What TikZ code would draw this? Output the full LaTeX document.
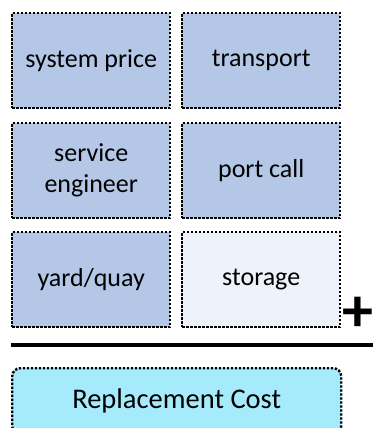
\documentclass[tikz,border=0pt]{standalone}
\usepackage{fontspec}
\setmainfont{Carlito}
\begin{document}
\begin{tikzpicture}[x=1pt,y=1pt,
  dotline/.style={draw=black, line width=2.4pt, dash pattern=on 2.4pt off 1.6pt},
  cell/.style={dotline,
    minimum width=158pt, minimum height=95pt, inner sep=0pt,
    align=center, font=\fontsize{26}{31}\selectfont, anchor=north west},
  bluecell/.style={cell, fill=cellblue},
  palecell/.style={cell, fill=cellpale},
  total/.style={dotline, rounded corners=8pt, fill=totalcyan,
    minimum width=329pt, minimum height=66pt, inner sep=0pt,
    anchor=north west, font=\fontsize{28.5}{34}\selectfont}]
\definecolor{cellblue}{HTML}{B4C7E7}
\definecolor{cellpale}{HTML}{EEF2FA}
\definecolor{totalcyan}{HTML}{A6EBFB}
\useasboundingbox (0,0) rectangle (373,-428);
% cost components
\node[bluecell] (price) at (11,-12) {system price};
\node[bluecell] (transport) at (181,-12) {transport};
\node[bluecell] (engineer) at (11,-122) {service\\engineer};
\node[bluecell] (port) at (181,-122) {port call};
\node[bluecell] (yard) at (11,-231) {yard/quay};
\node[palecell] (storage) at (181,-231) {storage};
% sum sign and rule
\node[font=\fontsize{62}{62}\selectfont\bfseries, inner sep=0pt] (plus) at (358,-314) {+};
\coordinate (ruleL) at (11,-345);
\coordinate (ruleR) at (373,-345);
\draw[line width=3.8pt] (ruleL) -- (ruleR);
% result
\node[total] (result) at (11,-367) {Replacement Cost};
\end{tikzpicture}
\end{document}
